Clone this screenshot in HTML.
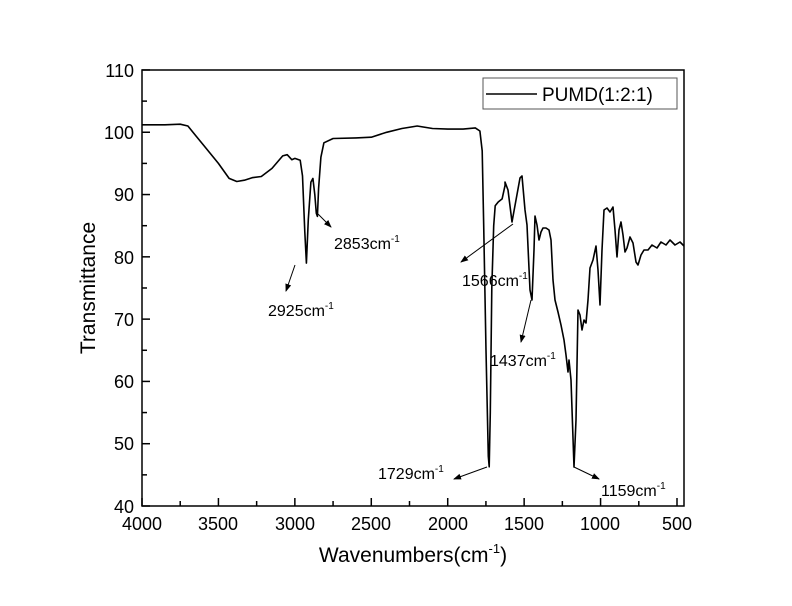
<!DOCTYPE html>
<html><head><style>body{margin:0;background:#fff}svg{display:block;font-family:"Liberation Sans",Arial,sans-serif}</style></head><body>
<svg id="s" width="792" height="606" xmlns="http://www.w3.org/2000/svg">
<rect width="792" height="606" fill="#fff"/>
<g id="ticks" stroke="#000" stroke-width="1.5" fill="none"></g>
<rect x="142" y="70" width="542" height="436" fill="none" stroke="#000" stroke-width="1.5"/>
<path id="curve" fill="none" stroke="#000" stroke-width="1.6" stroke-linejoin="round"/>
<g font-size="18" fill="#000" text-anchor="end">
<text x="134" y="77">110</text><text x="134" y="139">100</text><text x="134" y="201">90</text><text x="134" y="264">80</text><text x="134" y="326">70</text><text x="134" y="388">60</text><text x="134" y="450">50</text><text x="134" y="513">40</text>
</g>
<g font-size="18" fill="#000" text-anchor="middle">
<text x="142" y="530">4000</text><text x="218" y="530">3500</text><text x="295" y="530">3000</text><text x="371" y="530">2500</text><text x="448" y="530">2000</text><text x="524" y="530">1500</text><text x="600" y="530">1000</text><text x="677" y="530">500</text>
</g>
<text x="413" y="562" font-size="21" text-anchor="middle">Wavenumbers(cm<tspan font-size="13" dy="-9">-1</tspan><tspan dy="9">)</tspan></text>
<text transform="translate(95,288) rotate(-90)" font-size="21" text-anchor="middle">Transmittance</text>
<rect x="483" y="78" width="194" height="31" fill="#fff" stroke="#555" stroke-width="1"/>
<line x1="486" y1="94" x2="537" y2="94" stroke="#000" stroke-width="1.6"/>
<text x="542" y="101" font-size="19">PUMD(1:2:1)</text>
<defs><marker id="a" markerWidth="8" markerHeight="8" refX="7" refY="4" orient="auto" markerUnits="userSpaceOnUse"><path d="M0,1 L8,4 L0,7 z" fill="#000"/></marker></defs>
<g stroke="#000" stroke-width="1" marker-end="url(#a)">
<line x1="295" y1="265" x2="286" y2="291"/>
<line x1="318" y1="214" x2="331" y2="227"/>
<line x1="513" y1="224" x2="461" y2="262"/>
<line x1="531" y1="300" x2="521" y2="342"/>
<line x1="487" y1="467" x2="454" y2="479"/>
<line x1="574" y1="467" x2="599" y2="479"/>
</g>
<g font-size="16" fill="#000">
<text x="268" y="316">2925cm<tspan font-size="10" dy="-7">-1</tspan></text>
<text x="334" y="249">2853cm<tspan font-size="10" dy="-7">-1</tspan></text>
<text x="462" y="286">1566cm<tspan font-size="10" dy="-7">-1</tspan></text>
<text x="490" y="366">1437cm<tspan font-size="10" dy="-7">-1</tspan></text>
<text x="378" y="479">1729cm<tspan font-size="10" dy="-7">-1</tspan></text>
<text x="601" y="496">1159cm<tspan font-size="10" dy="-7">-1</tspan></text>
</g>
</svg>
<script>
var X=w=>142+(4000-w)*542/3545, Y=t=>506-(t-40)*6.229;
var d=[[4000,101.2],[3850,101.2],[3750,101.3],[3700,101],[3650,99.5],[3600,98],[3500,95],[3430,92.6],[3380,92.1],[3330,92.3],[3280,92.7],[3220,92.9],[3150,94.2],[3080,96.2],[3050,96.4],[3020,95.6],[3000,95.8],[2965,95.5],[2950,93],[2935,84],[2925,79],[2912,86],[2895,92],[2882,92.6],[2870,90],[2860,87],[2853,86.5],[2845,91],[2830,96],[2810,98.3],[2750,99],[2600,99.1],[2500,99.2],[2400,100],[2300,100.6],[2200,101],[2100,100.6],[2000,100.5],[1900,100.5],[1820,100.7],[1790,100.2],[1775,97],[1765,85],[1750,65],[1735,48],[1729,46.3],[1722,55],[1712,75],[1700,85],[1690,88.2],[1670,88.8],[1645,89.3],[1625,91.5]];
var px=[[505,182],[508,190],[512,222],[516,200],[520,178],[522,176],[525,210],[527,225],[530,290],[532,300],[534,250],[535,216],[537,225],[539,240],[541,232],[543,228],[546,228],[549,230],[551,240],[553,280],[555,300],[558,312],[561,325],[564,340],[566,355],[568,372],[569,360],[571,380],[574,467],[576,420],[578,310],[580,315],[582,330],[584,320],[586,323],[588,300],[590,268],[593,260],[596,246],[598,270],[600,305],[602,250],[604,210],[607,208],[610,212],[613,207],[615,230],[617,257],[619,230],[621,222],[623,235],[625,252],[627,248],[630,237],[633,243],[636,262],[638,265],[641,255],[644,250],[648,250],[652,245],[657,248],[661,242],[666,245],[670,240],[675,245],[680,242],[684,246]];
var pts=d.map(p=>[X(p[0]),Y(p[1])]).concat(px);
document.getElementById('curve').setAttribute('d','M'+pts.map(p=>p[0].toFixed(1)+','+p[1].toFixed(1)).join(' L'));
var g=document.getElementById('ticks'),s='';
for(var w=4000;w>=500;w-=250){var x=142+(4000-w)*535/3500,L=(w%500==0)?8:5;s+='<line x1="'+x+'" y1="506" x2="'+x+'" y2="'+(506-L)+'"/>';}
for(var t=40;t<=110;t+=5){var y=Y(t),L=(t%10==0)?8:5;s+='<line x1="142" y1="'+y+'" x2="'+(142+L)+'" y2="'+y+'"/>';}
g.innerHTML=s;
</script>
</body></html>
